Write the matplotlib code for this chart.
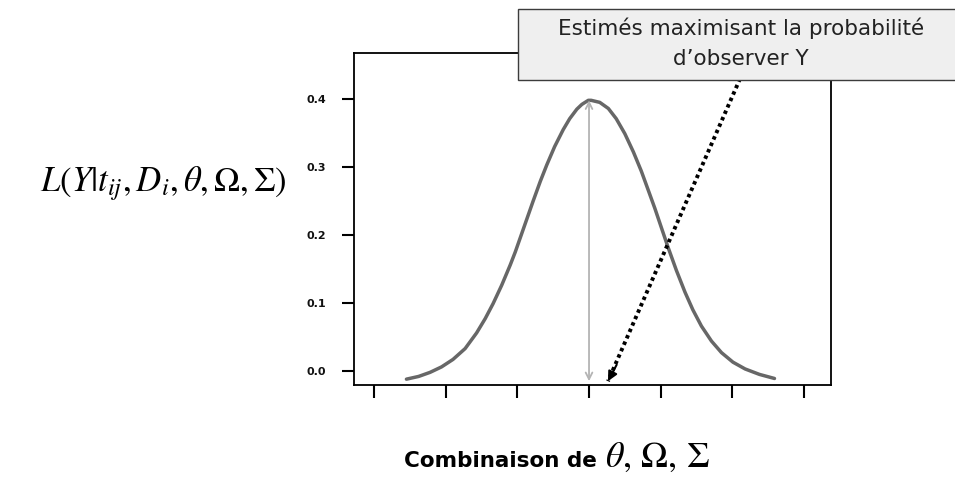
import matplotlib
matplotlib.use("Agg")
import matplotlib.pyplot as plt
from matplotlib.patches import Rectangle

plt.rcParams['font.family'] = ['DejaVu Sans']
plt.rcParams['mathtext.fontset'] = 'stix'

curveX = [-2.55, -2.38, -2.22, -2.06, -1.90, -1.73, -1.57, -1.45, -1.34, -1.22, -1.10, -1.03,
          -0.96, -0.87, -0.78, -0.68, -0.59, -0.48, -0.36, -0.27, -0.17, -0.10, -0.01,
          0.03, 0.15, 0.27, 0.38, 0.50, 0.62, 0.73, 0.82, 0.92, 1.01, 1.10, 1.22, 1.34,
          1.45, 1.57, 1.71, 1.85, 2.01, 2.18, 2.38, 2.59]
curveY = [-0.012, -0.008, -0.002, 0.006, 0.017, 0.033, 0.056, 0.077, 0.099, 0.126, 0.156, 0.175,
          0.196, 0.223, 0.250, 0.279, 0.303, 0.330, 0.355, 0.371, 0.385, 0.392, 0.398,
          0.398, 0.395, 0.386, 0.371, 0.349, 0.322, 0.294, 0.268, 0.239, 0.211, 0.183, 0.148, 0.116,
          0.090, 0.066, 0.044, 0.027, 0.013, 0.003, -0.005, -0.011]

xTicks = [-3, -2, -1, 0, 1, 2, 3]
yTicks = [0.0, 0.1, 0.2, 0.3, 0.4]
yTickLabels = ['0.0', '0.1', '0.2', '0.3', '0.4']

peakX, peakY = 0.0, 0.398
estStart = (2.11, 0.43)
estTip = (0.265, -0.015)

fig = plt.figure(figsize=(9.55, 4.8), dpi=100)
ax = fig.add_axes([0.3707, 0.1979, 0.4995, 0.6917])

ax.plot(curveX, curveY, color='#676767', lw=2.5, solid_capstyle='round',
        solid_joinstyle='round')

# max likelihood marker
ax.annotate('', xy=(peakX, -0.015), xytext=(peakX, peakY),
            arrowprops=dict(arrowstyle='<->', color='#b4b4b4', lw=1.3,
                            shrinkA=0, shrinkB=0, mutation_scale=12))

# dotted pointer from the callout
ax.plot([estStart[0], estTip[0]], [estStart[1], estTip[1]], color='black', lw=2.8,
        ls=(0, (0.9, 0.9)), clip_on=False)
ax.annotate('', xy=estTip, xytext=(estTip[0] + 0.12, estTip[1] + 0.024),
            arrowprops=dict(arrowstyle='-|>', color='black', lw=1.5,
                            shrinkA=0, shrinkB=0, mutation_scale=14))

ax.set_xlim(-3.282, 3.380)
ax.set_ylim(-0.0206, 0.4676)
ax.set_xticks(xTicks)
ax.set_xticklabels([])
ax.set_yticks(yTicks)
ax.set_yticklabels(yTickLabels, fontsize=8, fontweight='bold', color='#111111')
ax.tick_params(direction='out', length=9, width=1.5, color='black')
ax.tick_params(axis='y', pad=11)
for s in ax.spines.values():
    s.set_linewidth(1.3)
    s.set_color('black')

# callout box
fig.add_artist(Rectangle((0.5424, 0.8333), 0.47, 0.148, transform=fig.transFigure,
                         facecolor='#efefef', edgecolor='#3c3c3c', lw=1.0, zorder=5))
fig.text(0.776, 0.942, 'Estimés maximisant la probabilité', ha='center', va='center',
         fontsize=15.5, color='#222222', zorder=6)
fig.text(0.776, 0.878, 'd\u2019observer Y', ha='center', va='center',
         fontsize=15.5, color='#222222', zorder=6)

fig.text(0.300, 0.617, r'$L(Y|t_{ij},D_i,\theta,\Omega,\Sigma)$', ha='right', va='center',
         fontsize=25)

fig.text(0.625, 0.027, 'Combinaison de', ha='right', va='baseline', fontsize=15.5,
         fontweight='bold')
fig.text(0.633, 0.027, r'$\theta,\,\Omega,\,\Sigma$', ha='left', va='baseline', fontsize=26)

fig.savefig('out.png', dpi=100)
